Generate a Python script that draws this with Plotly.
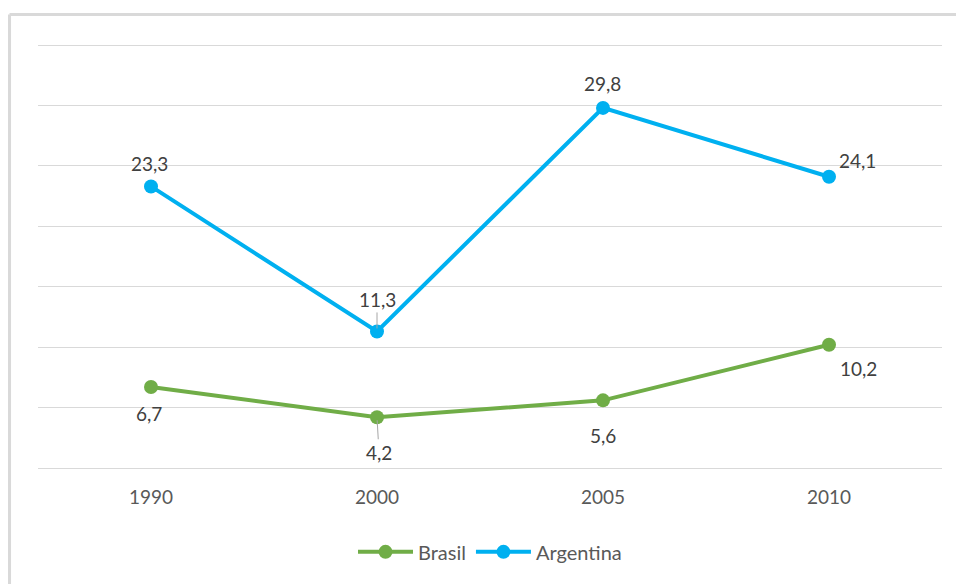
import plotly.graph_objects as go

years = ["1990", "2000", "2005", "2010"]
brasil = [6.7, 4.2, 5.6, 10.2]
argentina = [23.3, 11.3, 29.8, 24.1]

# label offsets (pixels) for each point's value label
arg_shift = [(-2, 23), (0, 32), (-1, 24), (28, 16)]
bra_shift = [(-2, -26), (2, -35), (0, -35), (29, -24)]

GREEN = "#70ad47"
BLUE = "#00b0f0"
FONT = "Lato, 'Open Sans', sans-serif"
LABEL_FONT = dict(family=FONT, size=19, color="#404040")

fig = go.Figure()
fig.add_trace(go.Scatter(
    x=years, y=brasil, name="Brasil", mode="lines+markers",
    line=dict(color=GREEN, width=4), marker=dict(color=GREEN, size=14),
))
fig.add_trace(go.Scatter(
    x=years, y=argentina, name="Argentina", mode="lines+markers",
    line=dict(color=BLUE, width=4), marker=dict(color=BLUE, size=14),
))


def fmt(v):
    return f"{v:.1f}".replace(".", ",")


def value_labels(values, shifts, leader_idx):
    out = []
    for i, v in enumerate(values):
        dx, dy = shifts[i]
        if i == leader_idx:
            # label with a thin leader line to its point
            out.append(dict(x=i, y=v, xref="x", yref="y", text=fmt(v),
                            showarrow=True, arrowhead=0, arrowwidth=1,
                            arrowcolor="#a6a6a6", ax=dx, ay=-dy, standoff=3,
                            font=LABEL_FONT))
        else:
            out.append(dict(x=i, y=v, xref="x", yref="y", text=fmt(v),
                            showarrow=False, xshift=dx, yshift=dy,
                            font=LABEL_FONT))
    return out


annotations = value_labels(argentina, arg_shift, 1) + value_labels(brasil, bra_shift, 1)

fig.update_layout(
    width=956, height=584,
    margin=dict(l=38, r=14, t=39, b=116),
    paper_bgcolor="white", plot_bgcolor="white",
    showlegend=True,
    legend=dict(orientation="h", x=0.5, xanchor="center", y=-0.15, yanchor="top",
                font=dict(family=FONT, size=20, color="#595959"),
                itemwidth=55),
    annotations=annotations,
    shapes=[
        # chart frame (left and top edges)
        dict(type="line", xref="paper", yref="paper",
             x0=-0.0315, x1=-0.0315, y0=1.057, y1=-0.3,
             line=dict(color="#d9d9d9", width=3)),
        dict(type="line", xref="paper", yref="paper",
             x0=-0.0315, x1=1.02, y0=1.057, y1=1.057,
             line=dict(color="#d9d9d9", width=3)),
    ],
)
fig.update_xaxes(
    type="category", range=[-0.5, 3.5], showgrid=False, showline=False,
    zeroline=False, ticks="", ticklabelstandoff=16,
    tickfont=dict(family=FONT, size=19, color="#595959"),
)
fig.update_yaxes(
    range=[0, 35.5], tick0=0, dtick=5, showticklabels=False, showgrid=True,
    gridcolor="#d9d9d9", gridwidth=1, zeroline=True, zerolinecolor="#d9d9d9",
    zerolinewidth=1, showline=False, ticks="",
)

fig.write_html("out.html")
